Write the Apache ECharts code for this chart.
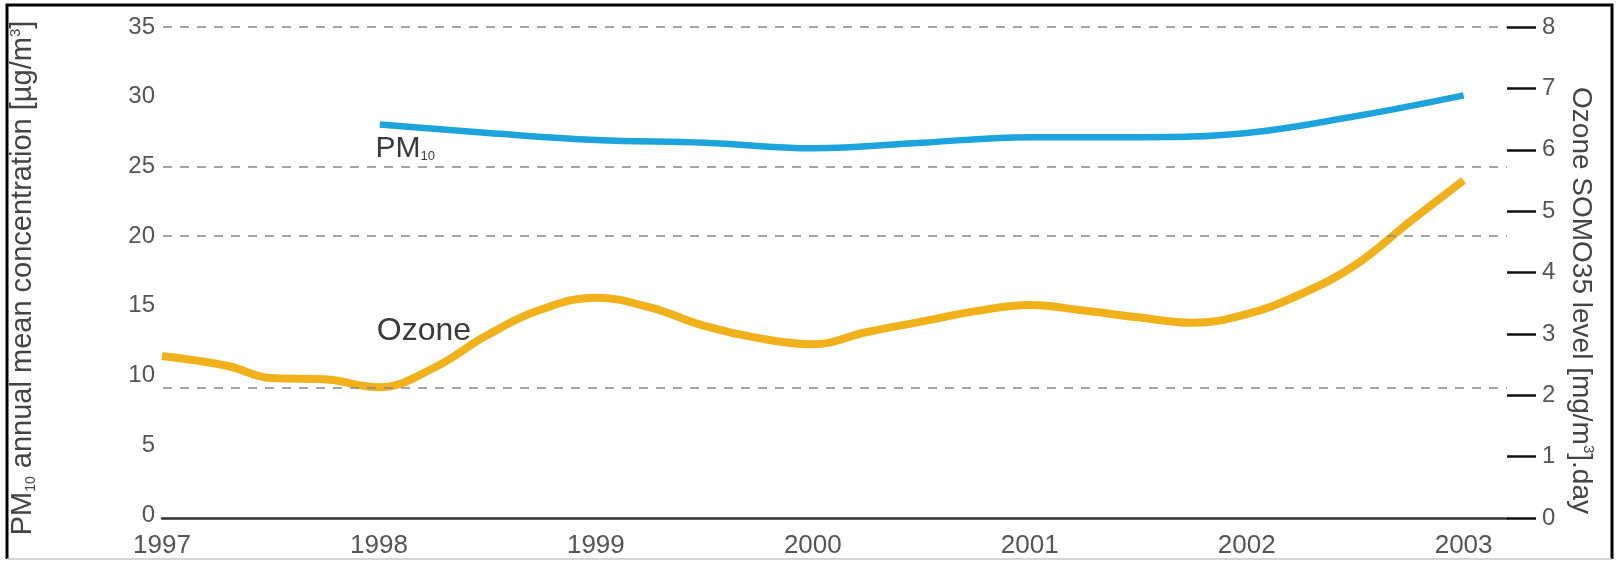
<!DOCTYPE html>
<html>
<head>
<meta charset="utf-8">
<script src="https://cdn.jsdelivr.net/npm/echarts@6/dist/echarts.min.js"></script>
<style>
  html, body { margin: 0; padding: 0; background: #fff; }
  #chart { width: 1616px; height: 562px; }
</style>
</head>
<body>
<div id="chart"></div>
<script>
// values
var pm10Years  = [1998, 1998.5, 1999, 1999.5, 2000, 2000.5, 2001, 2001.5, 2002, 2002.5, 2003];
var pm10Values = [28.0, 27.4, 26.9, 26.7, 26.3, 26.7, 27.1, 27.1, 27.4, 28.6, 30.1];

var ozoneYears  = [1997, 1997.3, 1997.5, 1997.75, 1998, 1998.25, 1998.5, 1998.75, 1999, 1999.25, 1999.5, 1999.75,
                   2000, 2000.25, 2000.5, 2000.75, 2001, 2001.25, 2001.5, 2001.75, 2002, 2002.25, 2002.5, 2002.75, 2003];
var ozoneValues = [2.64, 2.48, 2.28, 2.26, 2.13, 2.44, 2.98, 3.40, 3.59, 3.43, 3.13, 2.93,
                   2.83, 3.03, 3.20, 3.37, 3.47, 3.38, 3.27, 3.18, 3.32, 3.65, 4.12, 4.82, 5.50];

// dashed reference lines, in PM10 units
var dashedLines = [35, 25, 20, 9.1];

var font = 'Liberation Sans';
var labelColor = '#555';
var titleColor = '#444';

function pairs(xs, ys) {
    return xs.map(function (x, i) { return [x, ys[i]]; });
}

var chart = echarts.init(document.getElementById('chart'));

var option = {
    animation: false,
    backgroundColor: '#fff',
    textStyle: { fontFamily: font },
    grid: [
        { left: 162, right: 109, top: 27, bottom: 44 },   // ozone grid, visible x axis
        { left: 162, right: 109, top: 27, bottom: 47 }    // pm10 grid
    ],
    xAxis: [{
        type: 'value', gridIndex: 0, min: 1997, max: 2003.2, interval: 1,
        axisLine: { show: true, lineStyle: { color: '#333', width: 2.5 } },
        axisTick: { show: false },
        splitLine: { show: false },
        axisLabel: {
            color: labelColor, fontSize: 26, margin: 15, showMaxLabel: false,
            formatter: function (v) { return v % 1 === 0 ? String(v) : ''; }
        }
    }, {
        type: 'value', gridIndex: 1, min: 1997, max: 2003.2, show: false
    }],
    yAxis: [{
        type: 'value', gridIndex: 0, position: 'right', min: 0, max: 8, interval: 1,
        axisLine: { show: false },
        axisTick: { show: true, length: 29, lineStyle: { color: '#111', width: 2.5 } },
        splitLine: { show: false },
        axisLabel: { color: labelColor, fontSize: 24, margin: 35 },
        name: '{a|Ozone SOMO35 level [mg/m}{p|3}{a|].day}',
        nameLocation: 'middle', nameRotate: -90, nameGap: 56,
        nameTextStyle: {
            padding: [0, 0, 0, 56],
            rich: {
                a: { fontSize: 28, color: titleColor, fontFamily: font, lineHeight: 30 },
                p: { fontSize: 15, color: titleColor, fontFamily: font, verticalAlign: 'top', lineHeight: 30 }
            }
        }
    }, {
        type: 'value', gridIndex: 1, position: 'left', min: 0, max: 35, interval: 5,
        axisLine: { show: false },
        axisTick: { show: false },
        splitLine: { show: false },
        axisLabel: { color: labelColor, fontSize: 24, margin: 8 },
        name: '{a|PM}{s|10}{a| annual mean concentration [µg/m}{p|3}{a|]}',
        nameLocation: 'middle', nameRotate: 90, nameGap: 125,
        nameTextStyle: {
            padding: [0, 14, 0, 0],
            rich: {
                a: { fontSize: 29, color: titleColor, fontFamily: font, lineHeight: 30 },
                s: { fontSize: 14, color: titleColor, fontFamily: font, verticalAlign: 'bottom', lineHeight: 30 },
                p: { fontSize: 15, color: titleColor, fontFamily: font, verticalAlign: 'top', lineHeight: 30 }
            }
        }
    }],
    series: [{
        name: 'PM10', type: 'line', xAxisIndex: 1, yAxisIndex: 1, z: 2,
        data: pairs(pm10Years, pm10Values),
        smooth: 0.4, showSymbol: false, symbol: 'none',
        lineStyle: { color: '#1ea4dc', width: 6.5 },
        markLine: {
            silent: true, symbol: 'none', label: { show: false },
            lineStyle: { type: [9, 8], color: '#888', width: 1.5 },
            data: dashedLines.map(function (v) { return { yAxis: v }; })
        },
        markPoint: {
            symbol: 'circle', symbolSize: 0, silent: true,
            label: {
                show: true, position: 'right', distance: 0,
                formatter: '{a|PM}{s|10}',
                rich: {
                    a: { fontSize: 30, color: '#3a3a3a', fontFamily: font },
                    s: { fontSize: 13, color: '#3a3a3a', fontFamily: font, verticalAlign: 'bottom', padding: [14, 0, 0, 0] }
                }
            },
            data: [{ coord: [1997.98, 26.3] }]
        }
    }, {
        name: 'Ozone', type: 'line', xAxisIndex: 0, yAxisIndex: 0, z: 3,
        data: pairs(ozoneYears, ozoneValues),
        smooth: 0.4, showSymbol: false, symbol: 'none',
        lineStyle: { color: '#f1b11b', width: 8 },
        markPoint: {
            symbol: 'circle', symbolSize: 0, silent: true,
            label: {
                show: true, position: 'right', distance: 0,
                formatter: 'Ozone', fontSize: 32, color: '#3a3a3a', fontFamily: font
            },
            data: [{ coord: [1997.99, 3.05] }]
        }
    }],
    graphic: [{
        type: 'polyline', silent: true, z: 100,
        shape: { points: [[7, 559], [7, 5], [1612, 5], [1612, 559]] },
        style: { fill: 'none', stroke: '#000', lineWidth: 3 }
    }, {
        type: 'line', silent: true, z: 100,
        shape: { x1: 7, y1: 559, x2: 1612, y2: 559 },
        style: { stroke: '#c8c8c8', lineWidth: 1.5 }
    }]
};

chart.setOption(option);
</script>
</body>
</html>
